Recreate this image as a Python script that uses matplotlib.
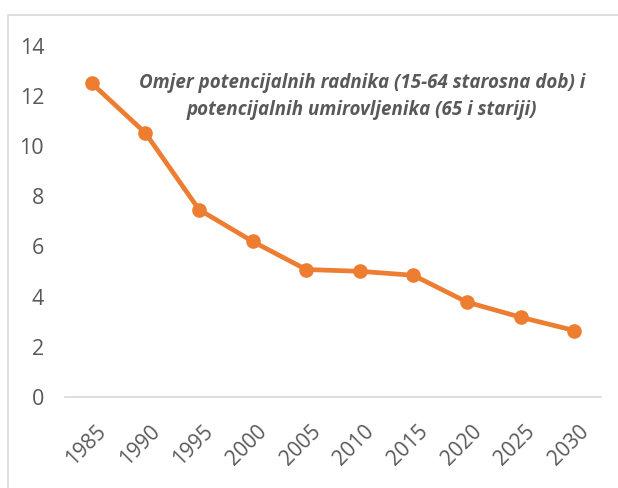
import matplotlib
matplotlib.use("Agg")
import matplotlib.pyplot as plt
import matplotlib.transforms as mtransforms
from matplotlib.patches import Rectangle

years = ["1985", "1990", "1995", "2000", "2005", "2010", "2015", "2020", "2025", "2030"]
ratio = [12.5, 10.52, 7.47, 6.2, 5.08, 5.01, 4.85, 3.78, 3.18, 2.65]
yticks = [0, 2, 4, 6, 8, 10, 12, 14]
title = "Omjer potencijalnih radnika (15-64 starosna dob) i\npotencijalnih umirovljenika (65 i stariji)"

plt.rcParams['font.family'] = ['Open Sans', 'DejaVu Sans']
grey = "#595959"

fig = plt.figure(figsize=(6.18, 4.88), dpi=100)
# chart-area frame (cropped at right/bottom in the original)
fig.patches.append(Rectangle((8 / 618, -0.1), 1.2, 1 - 15 / 488 + 0.1,
                             transform=fig.transFigure, fill=False,
                             edgecolor="#D9D9D9", linewidth=1.2))

ax = fig.add_axes([65 / 618, 1 - 397 / 488, 536 / 618, (397 - 45.7) / 488])
x = range(len(years))
ax.plot(x, ratio, color="#ED7D31", linewidth=3.4, marker="o", markersize=9.5,
        solid_capstyle="round", clip_on=False)

ax.set_xlim(-0.5, len(years) - 0.5)
ax.set_ylim(0, 14)
ax.set_yticks(yticks)
ax.set_xticks(list(x))
ax.set_xticklabels(years, rotation=45, ha="right", va="top", rotation_mode="anchor")
ax.tick_params(axis="y", length=0, pad=15, labelsize=15.5, labelcolor=grey)
ax.tick_params(axis="x", length=0, pad=17, labelsize=15, labelcolor=grey)

# nudge rotated year labels a little to the right
shift = mtransforms.ScaledTranslation(4 / 100, 0, fig.dpi_scale_trans)
for lab in ax.get_xticklabels():
    lab.set_transform(lab.get_transform() + shift)

for s in ["top", "right", "left"]:
    ax.spines[s].set_visible(False)
ax.spines["bottom"].set_color("#D9D9D9")
ax.spines["bottom"].set_linewidth(1.2)

ax.text(0.554, 0.855, title, transform=ax.transAxes, ha="center", va="center",
        fontsize=13.5, fontweight="bold", fontstyle="italic", color=grey,
        linespacing=1.5)

fig.savefig("out.png", dpi=100)
